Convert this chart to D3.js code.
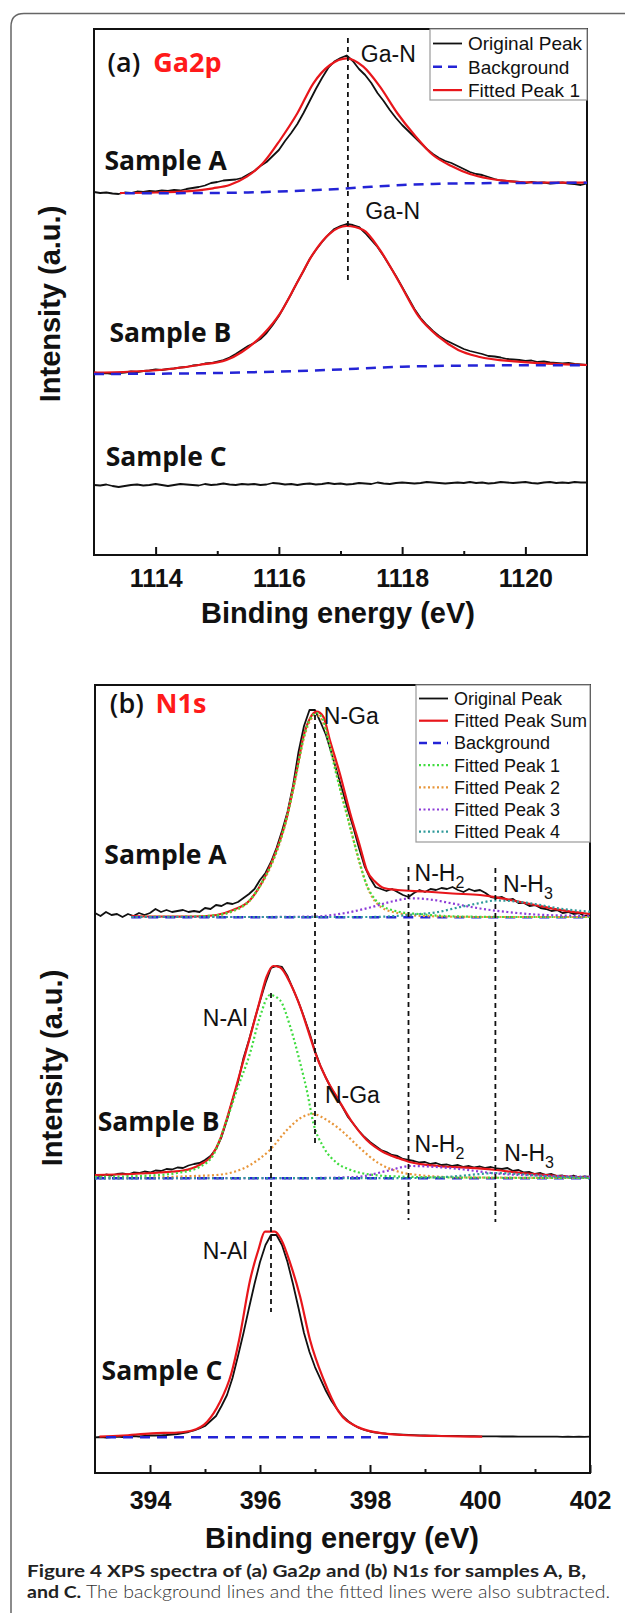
<!DOCTYPE html>
<html lang="en">
<head>
<meta charset="UTF-8">
<title>XPS spectra of Ga2p and N1s</title>
<script src="https://cdn.jsdelivr.net/npm/d3@7"></script>
<style>
  body { margin: 0; background: #fff; }
  svg { display: block; }
</style>
</head>
<body>
<script>
// ---------- panel (a) Ga2p ----------
const gaTicks = [1114, 1116, 1118, 1120];
const gaMinor = [1115, 1117, 1119];
const gaSamples = ["Sample A", "Sample B", "Sample C"];
const gaOffsets = [362, 181, 70];           // stacking offsets (a.u.)
const gaSamplePos = [[1113.17, 385], [1113.25, 213], [1113.19, 89]];
const gaRawStart = 1113, gaRawStep = 0.1;
const gaRawA = [1,0,0.5,-0.5,-1,0.5,0,1.5,1,2, 1.5,2.5,2,3,2.5,4,5,6,7.5,10, 11,12.5,13,13.5,15,18.5,22,27,31,37,
  43,52,60,69,80,92,104,115,125,131.5, 135,137.5,132,124,118,110,100,92,83,75, 68,62,56,50,44,39,35,32,30,27,
  24,21,19,18,16,14,12.5,12,11.5,11, 10,11,10,10.5,9.5,10,10.5,9.5,9,8, 9.5];
const gaRawB = [1.5,0.5,1,0,1,1.5,2.5,2,3,3.5, 4.5,4,5,5.5,6.5,7,8.5,9,10.5,11, 12.5,14,16.5,20,24,28,31,35,41,49,
  58,69,80,92,103,115,124,132,139,145, 148,150,149,147,141,134,127,118,108,98, 87,76,65,56,49,43,38,34,31,28,
  25,23,21.5,20,18,17.5,16.5,15,14.5,14, 13,13.5,12,12.5,11.5,11,10.5,11,10,9.5, 9];
const gaRawC = [0,-0.5,0.5,-1,-2,-1,0,0.5,-0.5,0, 1,0,-1,0,1,0.5,0,-0.5,1,0, 0.5,1.5,0.5,0,1,0.5,1,0,0.5,2,
  1.5,0.5,1,0,1,1.5,0.5,1,2,1, 1.5,0.5,1,2,1.5,1,2.5,1.5,1,2, 2.5,2,1.5,2,3,2.5,2,1.5,2,2.5,
  2,3,2,2.5,1.5,2,3,2.5,2,2.5, 3,2,1.5,2.5,3,2,2.5,2,3,2.5, 2.5];
const gaFitA = [[1113.42,0],[1114.0,0.5],[1114.4,1.3],[1114.93,4.7],[1115.2,8],[1115.48,16.3],[1115.74,29.7],
  [1116.02,53],[1116.3,79.7],[1116.56,109.7],[1116.83,128],[1117.1,134.7],[1117.37,126.3],[1117.64,106.3],
  [1117.92,80],[1118.2,58],[1118.5,38],[1118.8,27],[1119.1,19],[1119.4,14.5],[1119.8,11.5],[1120.2,10.5],[1121,10.3]];
const gaFitB = [[1113,1.3],[1114.06,4],[1114.7,9],[1115.15,14],[1115.4,22],[1115.75,40],[1116.02,60.7],
  [1116.29,90.7],[1116.56,120.7],[1116.83,140.7],[1117.1,148],[1117.37,144],[1117.64,124],[1117.95,92],
  [1118.27,57.3],[1118.59,37.3],[1118.91,24],[1119.24,17.3],[1119.88,12.3],[1121,9]];
const gaBgA = [[1113.5,-0.3],[1114.5,-0.1],[1115.5,0.5],[1116,1.5],[1116.5,2.7],[1117,4.2],[1117.5,6.2],
  [1118,8],[1118.5,9],[1119,9.7],[1120,10],[1121,10.3]];
const gaBgB = [[1113,0],[1114,0.3],[1115,1],[1116,2.5],[1117,4.5],[1117.5,6],[1118,7.2],[1118.5,8],
  [1119,8.4],[1120,8.7],[1121,8.8]];
const gaMarkers = [[1117.12, 517, 358], [1117.12, 352, 275]];
const gaLabels = [["Ga-N", 1117.33, 493], ["Ga-N", 1117.4, 336]];
const gaLegend = ["Original Peak", "Background", "Fitted Peak 1"];

// ---------- panel (b) N1s ----------
const nTicks = [394, 396, 398, 400, 402];
const nMinor = [395, 397, 399, 401];
const nSamples = ["Sample A", "Sample B", "Sample C"];
const nOffsets = [558, 296, 36];
const nSamplePos = [[393.17, 609], [393.05, 342], [393.12, 93]];
const nRawStart = 393, nRawStep = 0.1;
const nRawA = [2,-1,3,0,1,-2,1,-1,2,0, 2,6,3,5,3,4,5,3,4,3, 7,6,10,9,12,11,13,17,21,26,
  35,42,53,67,84,103,129,163,189,205, 205,193,180,162,143,124,105,87,67,49, 37,28,26,24,26,23,20,18,22,25,
  23,26,25,27,26,28,25,23,26,24, 25,22,18,17,18,15,16,12,12,9, 10,7,6,4,5,2,3,1,2,-1, 0];
const nRawB = [2,1,2.5,1.5,3,3.5,2.5,4.5,4,5.5, 4.5,6.5,6,8,7.5,9.5,9,11.5,13,14, 17,21,28,40,57,77,95,119,137,157,
  176,194,209,211,210,201,188,175,160,144, 126,111,99,88,79,70,60,53,46,40, 35,31,27,25,22,21,18,17,16,14.5,
  15,13,14,12,12.5,11,12,10,11,9.5, 10.5,9,10,8.5,8,9,6,7,4.5,5, 3,4,2,3,1,1.5,0,1.5,-0.5,0.5, 0];
const nRawC = [-0.3,0,-0.5,0,0.5,0,0.5,1,0.5,1, 1.5,1.5,1.7,2,2.5,3,4,5,6.5,8.5, 11,16,21,31,42,59,81,104,129,153,
  175,192,202,202,192,175,153,129,104,85, 70,58,46,36,28,21,16,12,9,7, 5.5,4.5,3.8,3.3,3,2.7,2.4,2.1,1.9,1.7,
  1.5,1.4,1.3,1.2,1.1,1,1,0.9,0.8,0.8, 0.7,0.7,0.6,0.6,0.5,0.5,0.5,0.4,0.4,0.4, 0.3,0.3,0.3,0.3,0.3,0.2,0.3,0.2,0.3,0.2, 0.3];
const nFitA = [[393.66,-1],[394.0,-1.5],[394.6,-1.7],[395.03,-1],[395.21,0],[395.51,5],[395.82,15],[396.06,35],
  [396.2,51],[396.49,98.3],[396.67,145],[396.79,178.3],[396.91,196.7],[397.03,203.3],[397.15,198.3],[397.27,175],
  [397.45,141.7],[397.64,101.7],[397.82,68.3],[397.94,45],[398.1,33],[398.25,27],[398.5,25],[399.0,23.5],
  [399.5,21.5],[400.0,20],[400.3,17.7],[400.6,14.5],[401.0,10],[401.4,5.7],[402.0,1]];
const nFitB = [[393,2],[394.17,4.5],[394.6,6.5],[394.9,12],[395.13,22],[395.27,37],[395.39,57],[395.55,87],
  [395.82,140.3],[396.0,177],[396.12,200.3],[396.24,211],[396.36,209.7],[396.55,193.7],[396.73,170.3],
  [396.91,140.3],[397.03,120.3],[397.2,99],[397.43,77],[397.65,57],[397.94,37],[398.23,25.3],[398.52,18.7],
  [398.7,15.3],[399.24,11],[399.97,8.7],[400.3,7],[400.69,4.3],[401.42,1],[402,-0.3]];
const nFitC = [[393.08,0.3],[393.5,1.5],[394.03,3.7],[394.5,4.5],[394.75,6.3],[395.04,15.3],[395.26,33.7],
  [395.48,63.7],[395.62,97],[395.82,157],[395.97,187],[396.09,205.3],[396.27,205.3],[396.39,197],[396.55,173.7],
  [396.73,140.3],[396.91,97],[397.16,57],[397.43,25.3],[397.79,9.7],[398.15,4.3],[398.6,2],[399.24,1],[400.04,0.3]];
const nBgA = [[393.66,-2.3],[402,-2.3]];
const nBgB = [[393,-1.3],[402,-1.3]];
const nBgC = [[393.2,-0.3],[398.4,-0.3]];
const nP1A = [[393.66,-2],[394.5,-1.8],[395.0,-1],[395.21,-0.2],[395.5,4],[395.8,14],[396.05,34],[396.2,50],
  [396.49,98],[396.67,144],[396.79,177],[396.91,196],[397.03,202],[397.15,195],[397.21,182],[397.39,140],
  [397.58,100],[397.76,63],[397.94,30],[398.1,15],[398.23,9],[398.52,3.3],[398.88,1],[399.5,-1.3],[400.5,-2],[402,-2]];
const nP2A = [[393.66,-2],[394.5,-1.8],[395.0,-1.2],[395.21,-0.5],[395.5,3.5],[395.8,13.5],[396.05,33],[396.2,49],
  [396.49,97],[396.67,143],[396.79,175],[396.91,194],[397.03,200],[397.15,192],[397.27,170],[397.45,128],
  [397.64,88],[397.82,50],[398.0,22],[398.2,8],[398.5,2],[399,-1],[400,-2],[402,-2]];
const nP3A = [[393.66,-2],[396.0,-2],[397.0,-1.5],[397.5,1.5],[398.0,7.5],[398.4,13.5],[398.75,16.7],[399.1,15.5],
  [399.5,11.5],[400.0,6.5],[400.5,3],[401.0,0.5],[401.5,-0.5],[402,-1]];
const nP4A = [[393.66,-2],[398.0,-2],[398.8,0.5],[399.24,3],[399.6,7.5],[399.97,11.7],[400.29,14.5],[400.69,13.3],
  [401.0,11],[401.42,6.7],[402,3.3]];
const nP1B = [[393,0],[394,1.5],[394.5,4],[394.91,10.3],[395.15,22],[395.39,56],[395.58,87],[395.82,124],
  [396.0,160.3],[396.18,182],[396.36,177],[396.55,150.3],[396.73,114],[396.85,87],[396.97,54],[397.15,30.3],
  [397.4,14],[397.65,7],[398.0,2.5],[398.5,0.5],[399.5,-0.5],[402,-1]];
const nP2B = [[393,-1],[394,-0.5],[394.8,1],[395.21,2],[395.82,12],[396.18,27],[396.49,47],[396.73,58.7],
  [396.95,63],[397.27,55],[397.51,45],[397.79,30.3],[398.16,13.7],[398.52,5.3],[398.88,2],[399.6,-0.3],[402,-1]];
const nP3B = [[393,-1.3],[397,-1],[397.79,0.3],[398.3,6],[398.74,11],[399.2,10],[399.7,7.5],[400.26,3.7],
  [401,1.5],[402,0.3]];
const nP4B = [[393,-1.3],[398.8,-1],[399.5,0.5],[400,3],[400.3,4],[400.7,3],[401.3,0.5],[402,-0.5]];
const nMarkers = [[397.0, 758, 330], [398.7, 606, 253], [400.28, 605, 251], [396.2, 480, 161]];
const nLabels = [["N-Ga", 397.16, 749, ""], ["N-H", 398.81, 592, "2"], ["N-H", 400.42, 581, "3"],
  ["N-Al", 394.96, 447, ""], ["N-Ga", 397.18, 370, ""], ["N-H", 398.81, 321, "2"], ["N-H", 400.44, 312, "3"],
  ["N-Al", 394.96, 214, ""]];
const nLegend = ["Original Peak", "Fitted Peak Sum", "Background", "Fitted Peak 1", "Fitted Peak 2",
  "Fitted Peak 3", "Fitted Peak 4"];

// ---------- styles ----------
const col = { raw: "#111", fit: "#e8161b", bg: "#2424d6", p1: "#3fdc3f", p2: "#e8963a", p3: "#8c3cd8", p4: "#2f9a9a" };
const ARIAL = "'Liberation Sans', Arial, sans-serif";
const HUM = "'Open Sans', 'Noto Sans', sans-serif";
const styles = {
  raw: { stroke: col.raw, w: 1.8, dash: null },
  fit: { stroke: col.fit, w: 2.2, dash: null },
  bg: { stroke: col.bg, w: 2.5, dash: "10,7" },
  p1: { stroke: col.p1, w: 2.2, dash: "2,2.5" },
  p2: { stroke: col.p2, w: 2.2, dash: "2,2.5" },
  p3: { stroke: col.p3, w: 2.2, dash: "2,2.5" },
  p4: { stroke: col.p4, w: 2.2, dash: "2,2.5" }
};

const svg = d3.select("body").append("svg").attr("width", 625).attr("height", 1613);

// outer figure frame
svg.append("path").attr("d", "M650,13.5 H24 Q11,13.5 11,26.5 V1650")
  .attr("fill", "none").attr("stroke", "#666").attr("stroke-width", 1.5);

const toPairs = (vals, start, step) => vals.map((v, i) => [start + i * step, v]);

function makePanel(box, xDomain, yDomain, ticks, minor, pad, titleBase, titleX, yTitle) {
  const x = d3.scaleLinear().domain(xDomain).range([box.left, box.right]);
  const y = d3.scaleLinear().domain(yDomain).range([box.bottom, box.top]);
  const g = svg.append("g");

  const ax = g.append("g").attr("transform", `translate(0,${box.bottom})`)
    .call(d3.axisBottom(x).tickValues(ticks).tickSizeInner(-8).tickSizeOuter(0)
      .tickPadding(pad).tickFormat(d3.format("d")));
  ax.select(".domain").remove();
  ax.selectAll(".tick line").attr("stroke", "#111").attr("stroke-width", 2);
  ax.selectAll(".tick text").attr("font-family", ARIAL).attr("font-weight", "bold")
    .attr("font-size", 25).attr("fill", "#111");

  const mx = g.append("g").attr("transform", `translate(0,${box.bottom})`)
    .call(d3.axisBottom(x).tickValues(minor).tickSizeInner(-4).tickSizeOuter(0).tickFormat(""));
  mx.select(".domain").remove();
  mx.selectAll(".tick line").attr("stroke", "#111").attr("stroke-width", 2);

  g.append("rect").attr("x", box.left).attr("y", box.top)
    .attr("width", box.right - box.left).attr("height", box.bottom - box.top)
    .attr("fill", "none").attr("stroke", "#111").attr("stroke-width", 2);

  g.append("text").attr("x", titleX).attr("y", titleBase).attr("text-anchor", "middle")
    .attr("font-family", ARIAL).attr("font-weight", "bold").attr("font-size", 29).attr("fill", "#111")
    .text("Binding energy (eV)");

  g.append("text").attr("transform", `translate(${yTitle[0]},${yTitle[1]}) rotate(-90)`)
    .attr("text-anchor", "middle").attr("font-family", ARIAL).attr("font-weight", "bold")
    .attr("font-size", 29).attr("fill", "#111").text("Intensity (a.u.)");

  return { g, x, y };
}

function drawSeries(p, data, offset, st, curve) {
  const line = d3.line().x(d => p.x(d[0])).y(d => p.y(offset + d[1])).curve(curve || d3.curveLinear);
  p.g.append("path").datum(data).attr("d", line).attr("fill", "none")
    .attr("stroke", st.stroke).attr("stroke-width", st.w)
    .attr("stroke-dasharray", st.dash).attr("stroke-linejoin", "round");
}

function drawMarkers(p, markers) {
  p.g.selectAll(null).data(markers).join("line")
    .attr("x1", d => p.x(d[0])).attr("x2", d => p.x(d[0]))
    .attr("y1", d => p.y(d[1])).attr("y2", d => p.y(d[2]))
    .attr("stroke", "#111").attr("stroke-width", 1.8).attr("stroke-dasharray", "5,4");
}

function drawLegend(p, names, st, box) {
  const lg = p.g.append("g");
  lg.append("rect").attr("x", box.x).attr("y", box.y).attr("width", box.w).attr("height", box.h)
    .attr("fill", "#fff").attr("stroke", "#9a9a9a").attr("stroke-width", 1.2);
  names.forEach((name, i) => {
    const cy = box.row0 + i * box.step;
    const s = st[i];
    lg.append("line").attr("x1", box.x + 3).attr("x2", box.x + 32).attr("y1", cy).attr("y2", cy)
      .attr("stroke", s.stroke).attr("stroke-width", s.w).attr("stroke-dasharray", s.dash);
    lg.append("text").attr("x", box.x + 38).attr("y", cy + box.fs * 0.36)
      .attr("font-family", ARIAL).attr("font-size", box.fs).attr("fill", "#111").text(name);
  });
}

function sampleLabels(p, names, pos) {
  p.g.selectAll(null).data(names).join("text")
    .attr("x", (d, i) => p.x(pos[i][0])).attr("y", (d, i) => p.y(pos[i][1]))
    .attr("font-family", HUM).attr("font-weight", "bold").attr("font-size", 26.5).attr("fill", "#111")
    .text(d => d);
}

function panelTag(p, tag, name, xTag, xName, yv) {
  p.g.append("text").attr("x", p.x(xTag)).attr("y", p.y(yv))
    .attr("font-family", HUM).attr("font-weight", 600).attr("font-size", 27).attr("fill", "#111").text(tag);
  p.g.append("text").attr("x", p.x(xName)).attr("y", p.y(yv))
    .attr("font-family", HUM).attr("font-weight", "bold").attr("font-size", 27).attr("fill", "#ff1a1a").text(name);
}

// ---------- panel (a) ----------
const pa = makePanel({ left: 94, right: 587, top: 29, bottom: 555 }, [1113, 1121], [0, 526],
  gaTicks, gaMinor, 14, 623, 338, [60, 304]);

drawSeries(pa, toPairs(gaRawA, gaRawStart, gaRawStep), gaOffsets[0], styles.raw);
drawSeries(pa, gaFitA, gaOffsets[0], styles.fit, d3.curveMonotoneX);
drawSeries(pa, gaBgA, gaOffsets[0], styles.bg, d3.curveMonotoneX);
drawSeries(pa, toPairs(gaRawB, gaRawStart, gaRawStep), gaOffsets[1], styles.raw);
drawSeries(pa, gaFitB, gaOffsets[1], styles.fit, d3.curveMonotoneX);
drawSeries(pa, gaBgB, gaOffsets[1], styles.bg, d3.curveMonotoneX);
drawSeries(pa, toPairs(gaRawC, gaRawStart, gaRawStep), gaOffsets[2], styles.raw);
drawMarkers(pa, gaMarkers);

pa.g.selectAll(null).data(gaLabels).join("text")
  .attr("x", d => pa.x(d[1])).attr("y", d => pa.y(d[2]))
  .attr("font-family", ARIAL).attr("font-size", 23).attr("fill", "#111").text(d => d[0]);
sampleLabels(pa, gaSamples, gaSamplePos);
panelTag(pa, "(a)", "Ga2p", 1113.22, 1113.96, 483);

drawLegend(pa, gaLegend, [styles.raw, { stroke: col.bg, w: 2.5, dash: "9,6" }, styles.fit],
  { x: 430, y: 29, w: 157, h: 71, row0: 43.5, step: 23.3, fs: 19 });

// ---------- panel (b) ----------
const pb = makePanel({ left: 95, right: 590, top: 685, bottom: 1473 }, [393, 402], [0, 788],
  nTicks, nMinor, 18, 1548, 342, [62, 1068]);

// sample A
drawSeries(pb, toPairs(nRawA, nRawStart, nRawStep), nOffsets[0], styles.raw);
drawSeries(pb, nFitA, nOffsets[0], styles.fit, d3.curveMonotoneX);
drawSeries(pb, nBgA, nOffsets[0], styles.bg);
drawSeries(pb, nP2A, nOffsets[0], styles.p2, d3.curveMonotoneX);
drawSeries(pb, nP1A, nOffsets[0], styles.p1, d3.curveMonotoneX);
drawSeries(pb, nP3A, nOffsets[0], styles.p3, d3.curveMonotoneX);
drawSeries(pb, nP4A, nOffsets[0], styles.p4, d3.curveMonotoneX);
// sample B
drawSeries(pb, toPairs(nRawB, nRawStart, nRawStep), nOffsets[1], styles.raw);
drawSeries(pb, nFitB, nOffsets[1], styles.fit, d3.curveMonotoneX);
drawSeries(pb, nBgB, nOffsets[1], styles.bg);
drawSeries(pb, nP2B, nOffsets[1], styles.p2, d3.curveMonotoneX);
drawSeries(pb, nP1B, nOffsets[1], styles.p1, d3.curveMonotoneX);
drawSeries(pb, nP3B, nOffsets[1], styles.p3, d3.curveMonotoneX);
drawSeries(pb, nP4B, nOffsets[1], styles.p4, d3.curveMonotoneX);
// sample C
drawSeries(pb, toPairs(nRawC, nRawStart, nRawStep), nOffsets[2], styles.raw);
drawSeries(pb, nFitC, nOffsets[2], styles.fit, d3.curveMonotoneX);
drawSeries(pb, nBgC, nOffsets[2], styles.bg);
drawMarkers(pb, nMarkers);

const nl = pb.g.selectAll(null).data(nLabels).join("text")
  .attr("x", d => pb.x(d[1])).attr("y", d => pb.y(d[2]))
  .attr("font-family", ARIAL).attr("font-size", 23).attr("fill", "#111");
nl.append("tspan").text(d => d[0]);
nl.filter(d => d[3]).append("tspan").attr("dy", 7).attr("font-size", 16).text(d => d[3]);
sampleLabels(pb, nSamples, nSamplePos);
panelTag(pb, "(b)", "N1s", 393.27, 394.1, 760);

drawLegend(pb, nLegend,
  [styles.raw, styles.fit, { stroke: col.bg, w: 2.5, dash: "8,6" }, styles.p1, styles.p2, styles.p3, styles.p4],
  { x: 416, y: 685, w: 174, h: 157, row0: 698.5, step: 22.2, fs: 18 });

// ---------- caption ----------
const cap1 = svg.append("text").attr("x", 27).attr("y", 1577).attr("textLength", 559)
  .attr("lengthAdjust", "spacingAndGlyphs").attr("font-family", "Lato, 'Open Sans', sans-serif")
  .attr("font-weight", "bold").attr("font-size", 17).attr("fill", "#222");
cap1.append("tspan").text("Figure 4 XPS spectra of (a) Ga2");
cap1.append("tspan").attr("font-style", "italic").text("p");
cap1.append("tspan").text(" and (b) N1");
cap1.append("tspan").attr("font-style", "italic").text("s");
cap1.append("tspan").text(" for samples A, B,");

const cap2 = svg.append("text").attr("x", 27).attr("y", 1598).attr("textLength", 583)
  .attr("lengthAdjust", "spacingAndGlyphs").attr("font-family", "Lato, 'Open Sans', sans-serif")
  .attr("font-size", 17).attr("fill", "#333");
cap2.append("tspan").attr("font-weight", "bold").attr("fill", "#222").text("and C.");
cap2.append("tspan").attr("font-weight", 300).text(" The background lines and the fitted lines were also subtracted.");
</script>
</body>
</html>
